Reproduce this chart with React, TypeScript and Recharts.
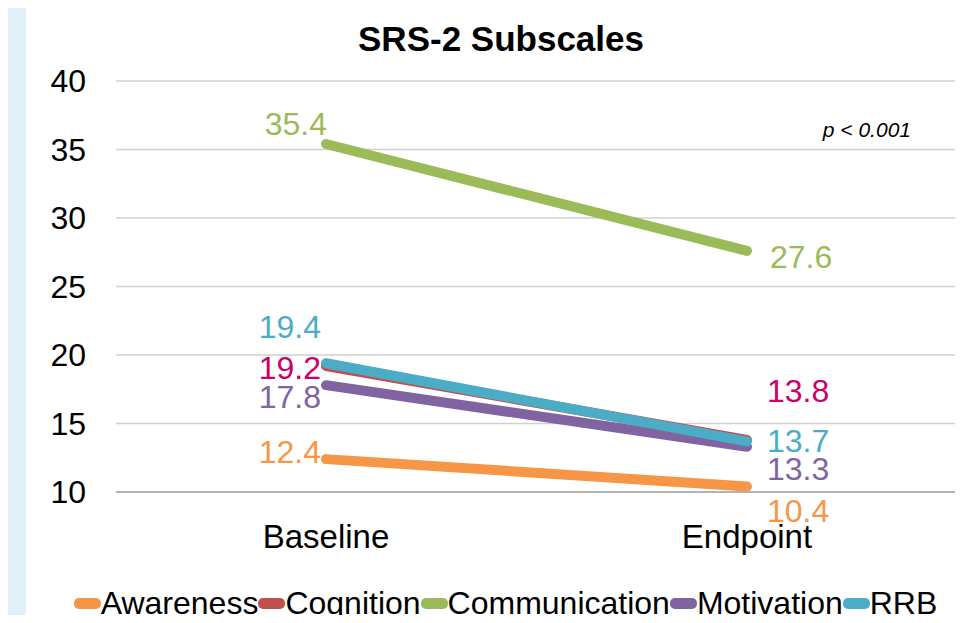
import React from "react";
import {
  LineChart,
  Line,
  XAxis,
  YAxis,
  CartesianGrid,
  Legend,
  LabelList,
} from "recharts";

const categories = ["Baseline", "Endpoint"];
const awareness = [12.4, 10.4];
const cognition = [19.2, 13.8];
const communication = [35.4, 27.6];
const motivation = [17.8, 13.3];
const rrb = [19.4, 13.7];
const yTicks = [10, 15, 20, 25, 30, 35, 40];

const FONT = '"Liberation Sans", Arial, sans-serif';

type Offset = { dx: number; dy: number; anchor: "start" | "end" };

const SERIES: {
  key: string;
  name: string;
  values: number[];
  color: string;
  labelColor: string;
  offsets: Offset[];
}[] = [
  {
    key: "awareness",
    name: "Awareness",
    values: awareness,
    color: "#F79646",
    labelColor: "#F79646",
    offsets: [
      { dx: -5, dy: -7, anchor: "end" },
      { dx: 20, dy: 24, anchor: "start" },
    ],
  },
  {
    key: "cognition",
    name: "Cognition",
    values: cognition,
    color: "#C0504D",
    labelColor: "#CC0066",
    offsets: [
      { dx: -5, dy: 2, anchor: "end" },
      { dx: 20, dy: -49, anchor: "start" },
    ],
  },
  {
    key: "communication",
    name: "Communication",
    values: communication,
    color: "#9BBB59",
    labelColor: "#9BBB59",
    offsets: [
      { dx: 1, dy: -20, anchor: "end" },
      { dx: 23, dy: 6, anchor: "start" },
    ],
  },
  {
    key: "motivation",
    name: "Motivation",
    values: motivation,
    color: "#8064A2",
    labelColor: "#8064A2",
    offsets: [
      { dx: -5, dy: 12, anchor: "end" },
      { dx: 20, dy: 22, anchor: "start" },
    ],
  },
  {
    key: "rrb",
    name: "RRB",
    values: rrb,
    color: "#4BACC6",
    labelColor: "#4BACC6",
    offsets: [
      { dx: -5, dy: -36, anchor: "end" },
      { dx: 20, dy: 0, anchor: "start" },
    ],
  },
];

const data = categories.map((name, i) => {
  const row: Record<string, string | number> = { name };
  SERIES.forEach((s) => {
    row[s.key] = s.values[i];
  });
  return row;
});

function makeLabel(color: string, offsets: Offset[]) {
  return (props: any) => {
    const { x, y, value, index } = props;
    const o = offsets[index] ?? { dx: 0, dy: 0, anchor: "middle" };
    return (
      <text
        x={Number(x) + o.dx}
        y={Number(y) + o.dy}
        textAnchor={o.anchor}
        dominantBaseline="central"
        fill={color}
        fontSize={32}
        fontFamily={FONT}
      >
        {Number(value).toFixed(1)}
      </text>
    );
  };
}

function LegendContent() {
  return (
    <div
      style={{
        display: "flex",
        justifyContent: "center",
        alignItems: "center",
        fontFamily: FONT,
        fontSize: 32,
        color: "#000",
        whiteSpace: "nowrap",
      }}
    >
      {SERIES.map((s) => (
        <span key={s.key} style={{ display: "flex", alignItems: "center" }}>
          <span
            style={{
              display: "inline-block",
              width: 27,
              height: 11,
              borderRadius: 5,
              background: s.color,
            }}
          />
          <span>{s.name}</span>
        </span>
      ))}
    </div>
  );
}

export default function App() {
  return (
    <div
      style={{
        position: "relative",
        width: 963,
        height: 623,
        margin: -8,
        overflow: "hidden",
        background: "#fff",
      }}
    >
      <div
        style={{
          position: "absolute",
          left: 0,
          top: 0,
          width: 26,
          height: 623,
          background: "#DFF1F7",
        }}
      />
      <div
        style={{
          position: "absolute",
          left: 0,
          top: 0,
          width: 220,
          height: 7,
          background: "linear-gradient(to right, #DFF1F7, #ffffff)",
        }}
      />
      <div
        style={{
          position: "absolute",
          left: 0,
          top: 48,
          width: 5,
          height: 2,
          background: "#222",
        }}
      />
      <div
        style={{
          position: "absolute",
          left: 0,
          top: 597,
          width: 5,
          height: 2,
          background: "#222",
        }}
      />
      <div style={{ position: "absolute", left: 0, top: 0 }}>
        <LineChart
          width={963}
          height={623}
          data={data}
          margin={{ top: 81, right: 6, left: 26, bottom: 71 }}
        >
          <CartesianGrid
            vertical={false}
            stroke="#D0D0D0"
            strokeWidth={1.5}
          />
          <XAxis
            dataKey="name"
            padding={{ left: 210, right: 210 }}
            axisLine={{ stroke: "#A6A6A6", strokeWidth: 1.5 }}
            tickLine={false}
            tickSize={0}
            tickMargin={33}
            height={60}
            tick={{ fontSize: 33, fill: "#000", fontFamily: FONT }}
          />
          <YAxis
            domain={[10, 40]}
            ticks={yTicks}
            width={90}
            axisLine={false}
            tickLine={false}
            tickSize={0}
            tickMargin={30}
            tick={{ fontSize: 32, fill: "#000", fontFamily: FONT }}
          />
          <Legend
            verticalAlign="middle"
            align="center"
            layout="horizontal"
            wrapperStyle={{ top: 585, left: 24, width: 963 }}
            content={() => <LegendContent />}
          />
          {SERIES.map((s) => (
            <Line
              key={s.key}
              dataKey={s.key}
              name={s.name}
              stroke={s.color}
              strokeWidth={10}
              strokeLinecap="round"
              dot={false}
              activeDot={false}
              isAnimationActive={false}
            >
              <LabelList
                dataKey={s.key}
                content={makeLabel(s.labelColor, s.offsets)}
              />
            </Line>
          ))}
          <text
            x={501}
            y={51}
            textAnchor="middle"
            fontSize={35}
            fontWeight="bold"
            fontFamily={FONT}
            fill="#000"
          >
            SRS-2 Subscales
          </text>
          <text
            x={911}
            y={137}
            textAnchor="end"
            fontSize={21}
            fontStyle="italic"
            fontFamily={FONT}
            fill="#000"
          >
            p &lt; 0.001
          </text>
        </LineChart>
      </div>
    </div>
  );
}
